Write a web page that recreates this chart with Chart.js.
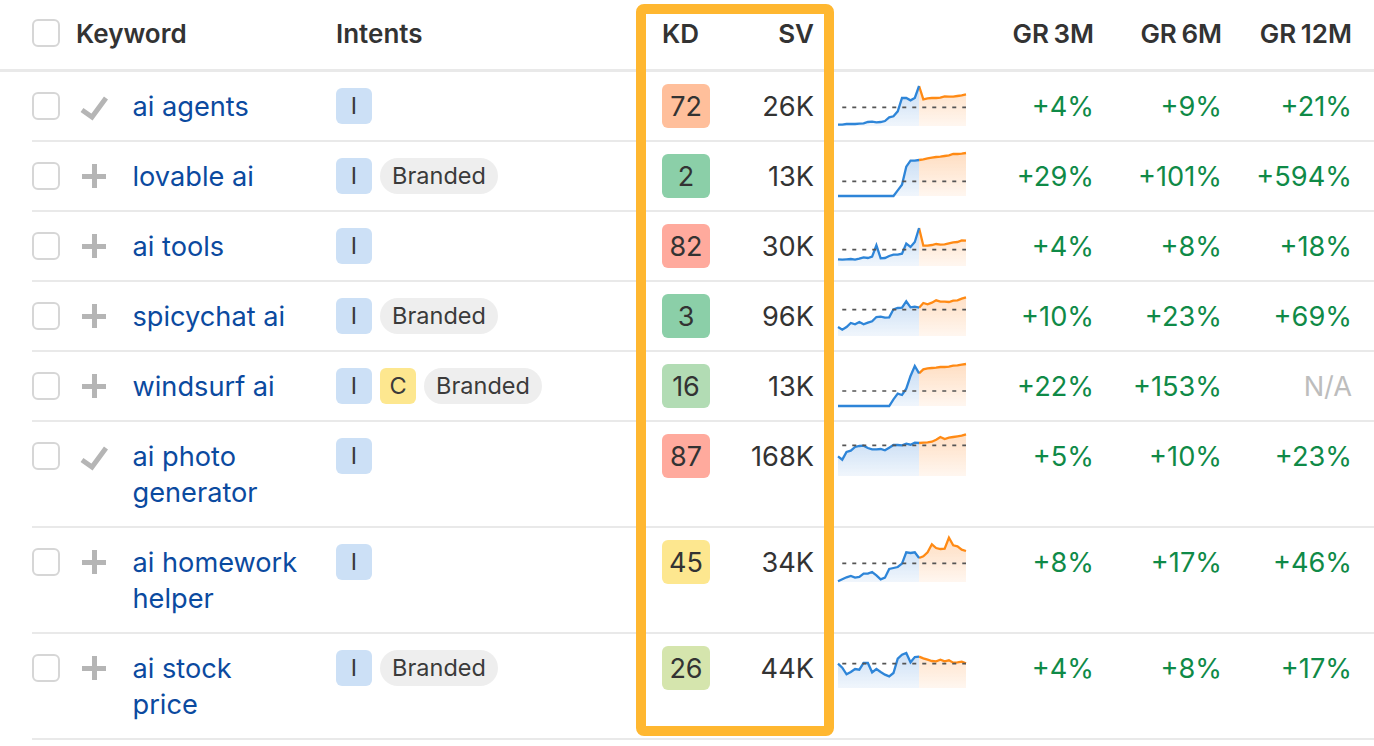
<!DOCTYPE html>
<html>
<head>
<meta charset="utf-8">
<title>Keywords</title>
<script src="https://cdn.jsdelivr.net/npm/chart.js@4"></script>
<style>
    html, body { margin: 0; padding: 0; background: #fff; overflow: hidden; }
    body { width: 1374px; height: 746px; position: relative; font-family: Inter, sans-serif; color: #333; }
    .abs { position: absolute; white-space: nowrap; }
    .line { position: absolute; right: 0; background: #e9e9e9; }
    .head { font-size: 26px; font-weight: 600; line-height: 30px; word-spacing: -2px; }
    .cell { font-size: 27.2px; line-height: 36px; }
    .link { color: #0b4a9f; }
    .right { text-align: right; }
    .box { position: absolute; left: 32px; width: 24px; height: 24px; border: 2px solid #d6d6d6; border-radius: 6px; }
    .chip { position: absolute; box-sizing: border-box; text-align: center; font-size: 23.5px; height: 36px; line-height: 36px; border-radius: 6px; color: #3a3a3a; }
    .kd { position: absolute; left: 662px; width: 48px; height: 44px; line-height: 46px; border-radius: 6px; text-align: center; font-size: 27px; color: #333; }
    .up { color: #0f8a47; }
    .na { color: #bdbdbd; }
    canvas { position: absolute; }
    #frame { position: absolute; left: 636px; top: 4px; width: 178px; height: 712px; border: 10px solid rgba(255, 180, 40, .96); border-radius: 8px; }
</style>
</head>
<body>
<div id="frame" style="z-index:5"></div>
<script>
"use strict";

// table text
const keywords = [["ai agents"], ["lovable ai"], ["ai tools"], ["spicychat ai"], ["windsurf ai"], ["ai photo", "generator"], ["ai homework", "helper"], ["ai stock", "price"]];
const added = [true, false, false, false, false, true, false, false];
const intents = [["I"], ["I", "Branded"], ["I"], ["I", "Branded"], ["I", "C", "Branded"], ["I"], ["I"], ["I", "Branded"]];
const kd = [72, 2, 82, 3, 16, 87, 45, 26];
const kdColors = ["#ffbf9b", "#8bcfa8", "#ffaa9d", "#8bcfa8", "#b2dcb4", "#ffaa9d", "#fde78f", "#d5e5ad"];
const sv = ["26K", "13K", "30K", "96K", "13K", "168K", "34K", "44K"];
const gr3 = ["+4%", "+29%", "+4%", "+10%", "+22%", "+5%", "+8%", "+4%"];
const gr6 = ["+9%", "+101%", "+8%", "+23%", "+153%", "+10%", "+17%", "+8%"];
const gr12 = ["+21%", "+594%", "+18%", "+69%", "N/A", "+23%", "+46%", "+17%"];

// row geometry
const rowCenters = [106, 176, 246, 316, 386, 456, 562, 668];
const rowLines = [141, 211, 281, 351, 421, 527, 633, 739];

// sparkline values, history part then forecast part
const hist = [
    [4, 4, 6, 6, 6, 7, 8, 12, 13, 11, 12, 15, 26, 29, 44, 84, 84, 77, 84, 120],
    [0, 0, 0, 0, 0, 0, 0, 0, 0, 0, 0, 0, 0, 0, 17, 34, 88, 106, 106, 108],
    [20, 19, 20, 21, 19, 22, 26, 24, 28, 62, 23, 24, 30, 34, 34, 37, 67, 57, 72, 114],
    [27, 19, 27, 39, 35, 42, 35, 40, 44, 57, 58, 55, 56, 80, 84, 85, 104, 86, 88, 85],
    [0, 0, 0, 0, 0, 0, 0, 0, 0, 0, 0, 0, 0, 20, 37, 33, 52, 90, 120, 98],
    [59, 49, 72, 76, 87, 90, 91, 84, 80, 80, 81, 77, 85, 93, 93, 92, 97, 94, 100, 99],
    [2, 8, 14, 18, 13, 15, 25, 25, 30, 20, 8, 13, 39, 42, 45, 55, 89, 87, 89, 72],
    [73, 61, 41, 48, 57, 55, 75, 75, 47, 57, 48, 40, 35, 45, 88, 100, 105, 77, 93, 94]
];
const forecast = [
    [80, 83, 84, 84, 85, 89, 88, 88, 90, 92, 95],
    [110, 113, 115, 117, 118, 120, 122, 126, 126, 127, 129],
    [61, 61, 63, 66, 64, 65, 68, 71, 72, 77, 76],
    [99, 95, 100, 107, 103, 103, 102, 106, 107, 112, 116],
    [110, 113, 114, 115, 117, 117, 118, 121, 122, 124, 126],
    [100, 101, 103, 109, 117, 111, 115, 117, 119, 121, 125],
    [77, 89, 113, 102, 99, 100, 133, 110, 107, 97, 93],
    [89, 85, 81, 80, 85, 80, 83, 76, 77, 79, 74]
];
const average = [56, 44, 49, 79, 45, 92, 56, 73];
const sparkBottoms = [125.7, 195.7, 265.7, 335.7, 405.7, 475.7, 581.7, 687.7];

function add(cls, text, css) {
    const el = document.createElement("div");
    el.className = cls;
    if (text !== null) el.textContent = text;
    el.style.cssText = css;
    document.body.appendChild(el);
    return el;
}

function drawHeader() {
    add("box", null, "top:19px");
    add("abs head", "Keyword", "left:76px;top:19px");
    add("abs head", "Intents", "left:336px;top:19px");
    add("abs head", "KD", "left:662px;top:19px");
    add("abs head right", "SV", "right:560px;top:19px");
    add("abs head right", "GR 3M", "right:280px;top:19px");
    add("abs head right", "GR 6M", "right:152px;top:19px");
    add("abs head right", "GR 12M", "right:22px;top:19px");
    add("line", null, "left:0;top:69px;height:3px");
    rowLines.forEach(y => add("line", null, `left:32px;top:${y - 1}px;height:2px`));
}

function drawRow(i) {
    const c = rowCenters[i];
    add("box", null, `top:${c - 14}px`);

    if (added[i]) {
        const svg = `<svg width="30" height="26" style="position:absolute;left:0;top:0"><path d="M3 14 L13 21 L27 2" fill="none" stroke="#b5b5b5" stroke-width="5"/></svg>`;
        add("abs", null, `left:79px;top:${c - 10}px;width:30px;height:26px`).innerHTML = svg;
    } else {
        add("abs", null, `left:82px;top:${c - 2}px;width:24px;height:5px;background:#b5b5b5`);
        add("abs", null, `left:92px;top:${c - 12}px;width:5px;height:24px;background:#b5b5b5`);
    }

    keywords[i].forEach((t, n) => add("abs cell link", t, `left:132.5px;top:${c - 17 + n * 36}px`));

    let x = 336;
    intents[i].forEach(t => {
        if (t === "Branded") {
            add("chip", t, `left:${x}px;top:${c - 18}px;width:118px;background:#eeeeee;border-radius:18px`);
        } else {
            add("chip", t, `left:${x}px;top:${c - 18}px;width:36px;background:${t === "I" ? "#cce0f6" : "#fde78f"}`);
            x += 44;
        }
    });

    add("kd", kd[i], `top:${c - 22}px;background:${kdColors[i]}`);
    add("abs cell right", sv[i], `right:560px;top:${c - 17}px`);
    add("abs cell right up", gr3[i], `right:280px;top:${c - 17}px`);
    add("abs cell right up", gr6[i], `right:152px;top:${c - 17}px`);
    add("abs cell right " + (gr12[i] === "N/A" ? "na" : "up"), gr12[i], `right:22px;top:${c - 17}px`);
}

function areaFill(context, rgb) {
    const area = context.chart.chartArea;
    if (!area) return "transparent";
    const g = context.chart.ctx.createLinearGradient(0, area.top, 0, area.bottom);
    g.addColorStop(0, `rgba(${rgb}, .30)`);
    g.addColorStop(1, `rgba(${rgb}, .07)`);
    return g;
}

function drawSpark(i) {
    const el = document.createElement("canvas");
    el.width = 132;
    el.height = 50;
    el.style.left = "836px";
    el.style.top = (sparkBottoms[i] + 2 - 50) + "px";
    el.style.width = "132px";
    el.style.height = "50px";
    document.body.appendChild(el);

    const labels = [...hist[i], ...forecast[i]].map((v, n) => n);
    const blue = hist[i];
    const orange = [...hist[i].map((v, n) => n === hist[i].length - 1 ? v : null), ...forecast[i]];
    const dash = labels.map(n => n === 0 ? null : average[i]);

    new Chart(el, {
        type: "line",
        data: {
            labels: labels,
            datasets: [
                { data: dash, borderColor: "#555", borderWidth: 1.7, borderDash: [4, 6], fill: false, pointRadius: 0, clip: 4 },
                { data: blue, borderColor: "#2e85d8", borderWidth: 2.3, tension: 0, pointRadius: 0, clip: 4, fill: "origin",
                  backgroundColor: ctx => areaFill(ctx, "47, 126, 214") },
                { data: orange, borderColor: "#ff8a14", borderWidth: 2.3, tension: 0, pointRadius: 0, clip: 4, fill: "origin",
                  backgroundColor: ctx => areaFill(ctx, "255, 138, 40") }
            ]
        },
        options: {
            responsive: false,
            animation: false,
            devicePixelRatio: 1,
            layout: { padding: 2 },
            plugins: { legend: { display: false }, tooltip: { enabled: false } },
            scales: {
                x: { display: false },
                y: { display: false, min: 0, max: 138 }
            }
        }
    });
}

drawHeader();
keywords.forEach((k, i) => {
    drawRow(i);
    drawSpark(i);
});
</script>
</body>
</html>
